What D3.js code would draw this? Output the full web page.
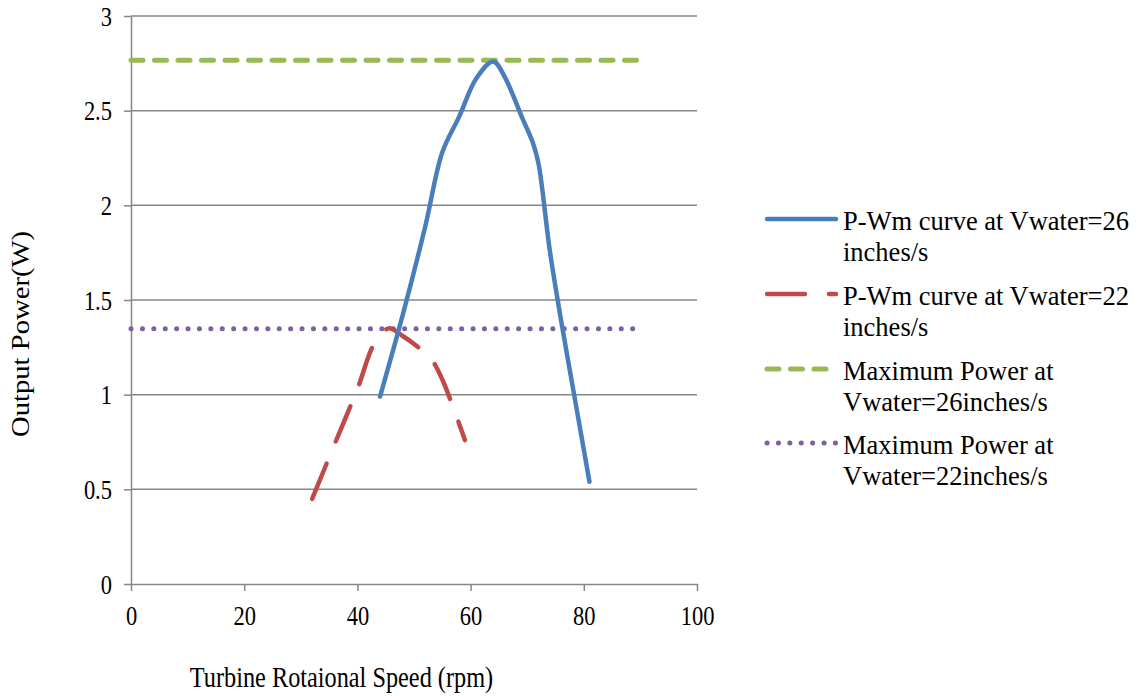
<!DOCTYPE html>
<html>
<head>
<meta charset="utf-8">
<script src="https://cdn.jsdelivr.net/npm/d3@7"></script>
<style>
  html, body { margin: 0; padding: 0; background: #fff; }
  svg { display: block; font-family: "Liberation Serif", "Times New Roman", serif; }
</style>
</head>
<body>
<svg id="chart" width="1142" height="696"></svg>
<script>
// ---- Data ----
const curve26Speed = [44, 48, 52, 55, 58, 61, 64, 66, 69, 71, 72, 74, 76, 79, 81];
const curve26Power = [0.99, 1.42, 1.89, 2.28, 2.47, 2.67, 2.76, 2.68, 2.47, 2.33, 2.22, 1.76, 1.39, 0.88, 0.54];
const curve22Speed = [32, 36, 40, 43, 45.5, 48, 51, 53, 55, 59];
const curve22Power = [0.45, 0.74, 1.03, 1.27, 1.35, 1.31, 1.245, 1.19, 1.08, 0.76];
const maxPowerSpeed = [0, 90];
const maxPower26 = [2.766, 2.766];
const maxPower22 = [1.348, 1.348];
const xTicks = [0, 20, 40, 60, 80, 100];
const yTicks = [0, 0.5, 1, 1.5, 2, 2.5, 3];
const seriesNames = [
  ["P-Wm curve at Vwater=26", "inches/s"],
  ["P-Wm curve at Vwater=22", "inches/s"],
  ["Maximum Power at", "Vwater=26inches/s"],
  ["Maximum Power at", "Vwater=22inches/s"]
];
const xTitle = "Turbine Rotaional Speed (rpm)";
const yTitle = "Output Power(W)";

// ---- Layout ----
const svg = d3.select("#chart");
const mLeft = 131, mRight = 697, mTop = 16, mBottom = 584;
const x = d3.scaleLinear().domain([0, 100]).range([mLeft, mRight]);
const y = d3.scaleLinear().domain([0, 3]).range([mBottom, mTop]);
const gridColor = "#868686";
const tickFont = 22.5, stretch = 1.2;

// gridlines
svg.append("g").selectAll("line").data(yTicks.filter(d => d > 0)).join("line")
  .attr("x1", mLeft).attr("x2", mRight)
  .attr("y1", d => y(d)).attr("y2", d => y(d))
  .attr("stroke", gridColor).attr("stroke-width", 1.5);

// axes
const yAxis = d3.axisLeft(y).tickValues(yTicks).tickSize(7).tickSizeOuter(0)
  .tickFormat(d3.format("~g"));
const gy = svg.append("g").attr("transform", `translate(${mLeft},0)`).call(yAxis);
const xAxis = d3.axisBottom(x).tickValues(xTicks).tickSize(7).tickSizeOuter(0);
const gx = svg.append("g").attr("transform", `translate(0,${mBottom})`).call(xAxis);
[gx, gy].forEach(g => {
  g.select(".domain").attr("stroke", gridColor).attr("stroke-width", 1.5);
  g.selectAll(".tick line").attr("stroke", gridColor).attr("stroke-width", 1.5);
  g.selectAll(".tick text").attr("fill", "#000")
    .style("font-family", "Liberation Serif").style("font-size", tickFont + "px");
});
gx.selectAll(".tick text").attr("x", 0).attr("y", 0).attr("dy", 0)
  .attr("transform", `translate(0,41) scale(1,${stretch})`);
gy.selectAll(".tick text").attr("x", 0).attr("y", 0).attr("dy", "0.34em")
  .attr("transform", `translate(-19,0) scale(1,${stretch})`);

// lines
const line = d3.line().x(d => x(d[0])).y(d => y(d[1])).curve(d3.curveCatmullRom.alpha(0.5));
const straight = d3.line().x(d => x(d[0])).y(d => y(d[1]));
const zip = (a, b) => a.map((v, i) => [v, b[i]]);

const styles = [
  { color: "#4A7EBB", dash: null, width: 4.5 },
  { color: "#BE4B48", dash: "38,24", width: 4.5 },
  { color: "#98B954", dash: "12,11.5", width: 5 },
  { color: "#7D60A0", dash: "0.1,11.3", width: 5 }
];

svg.append("path").datum(zip(maxPowerSpeed, maxPower26))
  .attr("d", straight).attr("fill", "none")
  .attr("stroke", styles[2].color).attr("stroke-width", styles[2].width)
  .attr("stroke-dasharray", styles[2].dash).attr("stroke-linecap", "round");
svg.append("path").datum(zip(maxPowerSpeed, maxPower22))
  .attr("d", straight).attr("fill", "none")
  .attr("stroke", styles[3].color).attr("stroke-width", styles[3].width)
  .attr("stroke-dasharray", styles[3].dash).attr("stroke-linecap", "round");
svg.append("path").datum(zip(curve22Speed, curve22Power))
  .attr("d", line).attr("fill", "none")
  .attr("stroke", styles[1].color).attr("stroke-width", styles[1].width)
  .attr("stroke-dasharray", styles[1].dash).attr("stroke-linecap", "round");
svg.append("path").datum(zip(curve26Speed, curve26Power))
  .attr("d", line).attr("fill", "none")
  .attr("stroke", styles[0].color).attr("stroke-width", styles[0].width)
  .attr("stroke-linecap", "round").attr("stroke-linejoin", "round");

// axis titles
svg.append("text").attr("text-anchor", "middle")
  .attr("transform", "translate(341.5,687) scale(1,1.18)")
  .style("font-size", "24.3px").text(xTitle);
svg.append("text").attr("text-anchor", "middle")
  .attr("transform", "translate(29,334) rotate(-90) scale(1.18,1)")
  .style("font-size", "24.3px").text(yTitle);

// legend
const legendY = [219, 294, 369, 443];
const lg = svg.append("g");
seriesNames.forEach((lines, i) => {
  const s = styles[i];
  lg.append("line").attr("x1", 767).attr("x2", 836).attr("y1", legendY[i]).attr("y2", legendY[i])
    .attr("stroke", s.color).attr("stroke-width", s.width)
    .attr("stroke-dasharray", s.dash).attr("stroke-linecap", "round");
  const t = lg.append("text").attr("x", 843).attr("y", legendY[i] + 11).style("font-size", "26.5px");
  lines.forEach((ln, j) => {
    t.append("tspan").attr("x", 843).attr("dy", j === 0 ? 0 : 31).text(ln);
  });
});
</script>
</body>
</html>
